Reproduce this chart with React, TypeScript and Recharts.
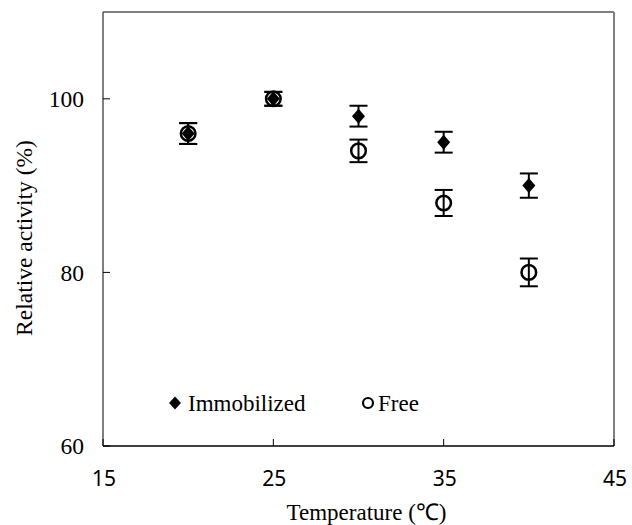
import React from "react";
import {
  ErrorBar,
  Legend,
  ReferenceLine,
  Scatter,
  ScatterChart,
  XAxis,
  YAxis,
} from "recharts";

const temperatures = [20, 25, 30, 35, 40];
const immobilizedValues = [96, 100, 98, 95, 90];
const immobilizedErrors = [1.2, 0.8, 1.2, 1.2, 1.4];
const freeValues = [96, 100, 94, 88, 80];
const freeErrors = [1.2, 0.8, 1.3, 1.5, 1.6];
const seriesNames = ["Immobilized", "Free"];
const xTicks = [15, 25, 35, 45];
const yTicks = [60, 80, 100];

const SERIF = '"Liberation Serif", "Times New Roman", serif';
const SANS = '"Noto Sans", "Open Sans", sans-serif';

const immobilizedData = temperatures.map((t, i) => ({
  x: t,
  y: immobilizedValues[i],
  err: immobilizedErrors[i],
}));

const freeData = temperatures.map((t, i) => ({
  x: t,
  y: freeValues[i],
  err: freeErrors[i],
}));

function Diamond({ cx, cy, w = 6.5, h = 7.5 }: any) {
  return (
    <path
      d={`M${cx},${cy - h} L${cx + w},${cy} L${cx},${cy + h} L${cx - w},${cy} Z`}
      fill="#000"
    />
  );
}

function Ring({ cx, cy, r = 7.3, sw = 2.5 }: any) {
  return <circle cx={cx} cy={cy} r={r} fill="none" stroke="#000" strokeWidth={sw} />;
}

function YTick({ x, y, payload }: any) {
  return (
    <g>
      <line x1={x} x2={x + 7} y1={y} y2={y} stroke="#000" strokeWidth={1} />
      <text x={x - 19} y={y} dy="0.35em" textAnchor="end" fontFamily={SERIF} fontSize={23.5} fill="#000">
        {payload.value}
      </text>
    </g>
  );
}

function XTick({ x, y, payload }: any) {
  return (
    <g>
      <line x1={x} x2={x} y1={y} y2={y - 7} stroke="#000" strokeWidth={1} />
      <text x={x + 1} y={y + 40} textAnchor="middle" fontFamily={SANS} fontSize={21} fill="#000">
        {payload.value}
      </text>
    </g>
  );
}

function LegendContent({ payload }: any) {
  const items = seriesNames.filter((name) =>
    (payload ?? []).some((p: any) => p.value === name)
  );
  return (
    <svg width={300} height={32}>
      {items.map((name, i) => {
        const ox = i === 0 ? 15 : 208;
        return (
          <g key={name}>
            {i === 0 ? (
              <Diamond cx={ox} cy={15} w={6} h={6.5} />
            ) : (
              <Ring cx={ox} cy={15} r={5} sw={2.2} />
            )}
            <text x={ox + (i === 0 ? 13 : 10)} y={23} fontFamily={SERIF} fontSize={23} fill="#000">
              {name}
            </text>
          </g>
        );
      })}
    </svg>
  );
}

export default function App() {
  return (
    <div style={{ position: "absolute", left: 0, top: 0, width: 632, height: 525, background: "#fff" }}>
      <ScatterChart width={632} height={525} margin={{ top: 12, right: 18, bottom: 0, left: 0 }}>
        <XAxis
          type="number"
          dataKey="x"
          domain={[15, 45]}
          ticks={xTicks}
          tickSize={0}
          tickMargin={0}
          tickLine={false}
          tick={<XTick />}
          height={79}
          axisLine={{ stroke: "#000", strokeWidth: 1.5 }}
          label={{
            value: "Temperature (℃)",
            position: "insideBottom",
            offset: 5,
            dx: 8,
            fontFamily: SERIF,
            fontSize: 23,
            fill: "#000",
          }}
        />
        <YAxis
          type="number"
          dataKey="y"
          domain={[60, 110]}
          ticks={yTicks}
          tickSize={0}
          tickMargin={0}
          tickLine={false}
          tick={<YTick />}
          width={103}
          axisLine={{ stroke: "#555", strokeWidth: 1.5 }}
          label={() => (
            <text
              x={32}
              y={238}
              transform="rotate(-90 32 238)"
              textAnchor="middle"
              fontFamily={SERIF}
              fontSize={23.5}
              fill="#000"
            >
              Relative activity (%)
            </text>
          )}
        />
        <ReferenceLine y={110} stroke="#7f7f7f" strokeWidth={2} />
        <ReferenceLine x={45} stroke="#7f7f7f" strokeWidth={2} />
        <Legend
          layout="horizontal"
          verticalAlign="middle"
          align="center"
          wrapperStyle={{ top: 388, left: 160, width: 300 }}
          content={<LegendContent />}
        />
        <Scatter
          name="Immobilized"
          data={immobilizedData}
          isAnimationActive={false}
          shape={(p: any) => <Diamond cx={p.cx} cy={p.cy} />}
        >
          <ErrorBar dataKey="err" direction="y" width={9} strokeWidth={2} stroke="#000" />
        </Scatter>
        <Scatter
          name="Free"
          data={freeData}
          isAnimationActive={false}
          shape={(p: any) => <Ring cx={p.cx} cy={p.cy} />}
        >
          <ErrorBar dataKey="err" direction="y" width={9} strokeWidth={2} stroke="#000" />
        </Scatter>
      </ScatterChart>
    </div>
  );
}
